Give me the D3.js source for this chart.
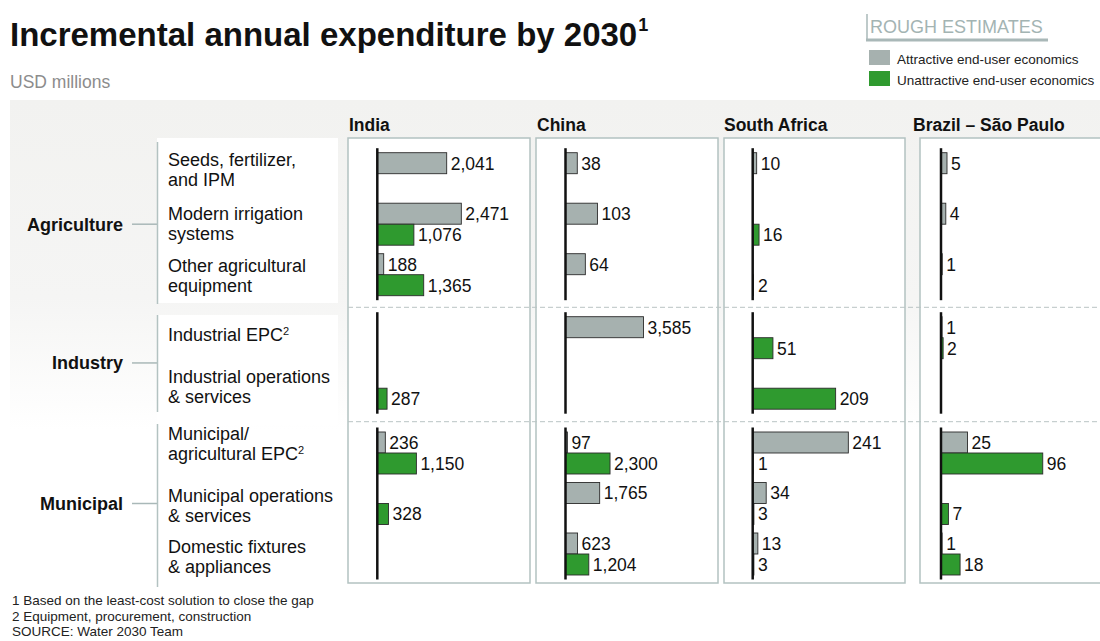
<!DOCTYPE html>
<html><head><meta charset="utf-8">
<script src="https://cdn.jsdelivr.net/npm/d3@7"></script>
<style>
body{margin:0;background:#fff;}
text{font-family:"Liberation Sans",Arial,Helvetica,sans-serif;}
</style>
</head><body>
<svg id="chart" width="1100" height="641"></svg>
<script>
// ---------------- DATA ----------------
const sectors = ["Agriculture", "Industry", "Municipal"];
const subcategorySector = [0, 0, 0, 1, 1, 2, 2, 2];
const subcategories = [
  ["Seeds, fertilizer,", "and IPM"],
  ["Modern irrigation", "systems"],
  ["Other agricultural", "equipment"],
  ["Industrial EPC^2"],
  ["Industrial operations", "& services"],
  ["Municipal/", "agricultural EPC^2"],
  ["Municipal operations", "& services"],
  ["Domestic fixtures", "& appliances"]
];
const regions = ["India", "China", "South Africa", "Brazil – São Paulo"];
const seriesNames = ["Attractive end-user economics", "Unattractive end-user economics"];

const indiaAttractive     = [2041, 2471, 188, null, null, 236, null, null];
const indiaUnattractive   = [null, 1076, 1365, null, 287, 1150, 328, null];
const chinaAttractive     = [38, 103, 64, 3585, null, 97, 1765, 623];
const chinaUnattractive   = [null, null, null, null, null, 2300, null, 1204];
const safricaAttractive   = [10, null, null, null, null, 241, 34, 13];
const safricaUnattractive = [null, 16, 2, 51, 209, 1, 3, 3];
const brazilAttractive    = [5, 4, 1, 1, null, 25, null, 1];
const brazilUnattractive  = [null, null, null, 2, null, 96, 7, 18];

const footnotes = [
  "1 Based on the least-cost solution to close the gap",
  "2 Equipment, procurement, construction",
  "SOURCE: Water 2030 Team"
];

// ---------------- LAYOUT ----------------
const regionValues = [
  [indiaAttractive, indiaUnattractive],
  [chinaAttractive, chinaUnattractive],
  [safricaAttractive, safricaUnattractive],
  [brazilAttractive, brazilUnattractive]
];
const colors = ["#a6b1af", "#2f9a2f"];
const panelX = [348, 536, 724, 920];
const panelW = [182, 182, 181, 200];
const axisX = [377.3, 565.5, 752.7, 941];
const headerX = [349, 537, 724, 913];
const panelTop = 138, panelBottom = 583;
const sectionTop = [152.7, 316.7, 432];
const groupStep = 50.5, pairH = 42;
// per region, per sector: [domain max, range width px]
const xSpec = [
  [[2500, 85], [2500, 85], [2500, 85]],
  [[100, 31], [4000, 87], [2500, 48.4]],
  [[250, 99.2], [250, 99.2], [250, 99.2]],
  [[5, 6], [100, 106], [100, 106]]
];
const labelShift = [-4, -1, 1, -3, -2, -9, 2, 3];
const bracketExt = [[142, 304], [315, 412], [424, 587]];
const fmt = d3.format(",");

const svg = d3.select("#chart");

// background gradient
const defs = svg.append("defs");
const grad = defs.append("linearGradient").attr("id", "bg").attr("x1", 0).attr("y1", 0).attr("x2", 0).attr("y2", 1);
grad.append("stop").attr("offset", "0%").attr("stop-color", "#f2f2f0");
grad.append("stop").attr("offset", "60%").attr("stop-color", "#f5f5f4");
grad.append("stop").attr("offset", "100%").attr("stop-color", "#ffffff");
svg.append("rect").attr("x", 10).attr("y", 100).attr("width", 1090).attr("height", 330).attr("fill", "url(#bg)");

// label column white boxes
svg.append("rect").attr("x", 157).attr("y", 138).attr("width", 181).attr("height", 165).attr("fill", "#fff");
svg.append("rect").attr("x", 157).attr("y", 315).attr("width", 181).attr("height", 110).attr("fill", "#fff");

// Title
const title = svg.append("text").attr("x", 10).attr("y", 46)
  .attr("font-size", 33).attr("font-weight", "bold").attr("fill", "#111")
  .text("Incremental annual expenditure by 2030");
const tw = title.node().getComputedTextLength();
svg.append("text").attr("x", 10 + tw + 1).attr("y", 31).attr("font-size", 18).attr("font-weight", "bold").attr("fill", "#111").text("1");

svg.append("text").attr("x", 10).attr("y", 88).attr("font-size", 17.5).attr("fill", "#8c8c8c").text("USD millions");

// Legend
svg.append("text").attr("x", 870).attr("y", 33).attr("font-size", 18).attr("fill", "#a3b4b3").text("ROUGH ESTIMATES");
svg.append("line").attr("x1", 867).attr("x2", 867).attr("y1", 14).attr("y2", 41).attr("stroke", "#a9b8b8").attr("stroke-width", 1.5);
svg.append("rect").attr("x", 866).attr("y", 38.5).attr("width", 182).attr("height", 3).attr("fill", "#a9b8b8");
seriesNames.forEach((s, i) => {
  svg.append("rect").attr("x", 869).attr("y", 50 + i * 21).attr("width", 21).attr("height", 15).attr("fill", colors[i]);
  svg.append("text").attr("x", 897).attr("y", 63.5 + i * 21).attr("font-size", 13.5).attr("fill", "#222").text(s);
});

// y scales per sector
const yScales = sectors.map((s, si) => {
  const ids = subcategories.map((d, i) => i).filter(i => subcategorySector[i] === si);
  const n = ids.length;
  return d3.scaleBand().domain(ids).range([sectionTop[si], sectionTop[si] + n * groupStep - (groupStep - pairH)])
    .paddingInner((groupStep - pairH) / groupStep).paddingOuter(0);
});
const ySub = d3.scaleBand().domain([0, 1]).range([0, pairH]);

// Panels
regions.forEach((r, ri) => {
  svg.append("rect").attr("x", panelX[ri]).attr("y", panelTop).attr("width", panelW[ri]).attr("height", panelBottom - panelTop)
    .attr("fill", "#fff").attr("stroke", "#b3c2c1").attr("stroke-width", 1.5);
  svg.append("text").attr("x", headerX[ri]).attr("y", 131).attr("font-size", 17.5).attr("font-weight", "bold").attr("fill", "#111").text(r);
});

// dashed separators
[307.3, 421.7].forEach(y => {
  svg.append("line").attr("x1", 348).attr("x2", 1100).attr("y1", y).attr("y2", y)
    .attr("stroke", "#b9c4c4").attr("stroke-width", 1).attr("stroke-dasharray", "5,3");
});

// Bars
regions.forEach((r, ri) => {
  sectors.forEach((s, si) => {
    const x = d3.scaleLinear().domain([0, xSpec[ri][si][0]]).range([0, xSpec[ri][si][1]]);
    const y = yScales[si];
    const g = svg.append("g");
    const items = [];
    y.domain().forEach(ci => {
      regionValues[ri].forEach((arr, k) => {
        if (arr[ci] != null) items.push({ci, k, v: arr[ci]});
      });
    });
    g.selectAll("rect.bar").data(items).join("rect").attr("class", "bar")
      .attr("x", axisX[ri]).attr("y", d => y(d.ci) + ySub(d.k))
      .attr("width", d => x(d.v)).attr("height", ySub.bandwidth())
      .attr("fill", d => colors[d.k]).attr("stroke", "#2b2b2b").attr("stroke-width", 0.9);
    g.selectAll("text.val").data(items).join("text").attr("class", "val")
      .attr("x", d => axisX[ri] + Math.max(x(d.v), 1.3) + 4)
      .attr("y", d => y(d.ci) + ySub(d.k) + ySub.bandwidth() / 2 + 6.3)
      .attr("font-size", 17.5).attr("fill", "#111").text(d => fmt(d.v));
    const top = y.range()[0] - 4.5, bot = y.range()[1] + 4.5;
    g.append("line").attr("x1", axisX[ri]).attr("x2", axisX[ri]).attr("y1", top).attr("y2", bot)
      .attr("stroke", "#111").attr("stroke-width", 2.5);
  });
});

// Left labels
sectors.forEach((s, si) => {
  const y = yScales[si];
  const cy = (y.range()[0] + y.range()[1]) / 2;
  svg.append("text").attr("x", 123).attr("y", cy + 6.3).attr("text-anchor", "end")
    .attr("font-size", 18).attr("font-weight", "bold").attr("fill", "#111").text(s);
  svg.append("line").attr("x1", 132).attr("x2", 157).attr("y1", cy).attr("y2", cy).attr("stroke", "#a9b8b8").attr("stroke-width", 1.5);
  svg.append("line").attr("x1", 157.5).attr("x2", 157.5).attr("y1", bracketExt[si][0]).attr("y2", bracketExt[si][1]).attr("stroke", "#b3c2c1").attr("stroke-width", 1.5);
});
subcategories.forEach((lines, ci) => {
  const y = yScales[subcategorySector[ci]];
  const cy = y(ci) + y.bandwidth() / 2 + labelShift[ci];
  const n = lines.length;
  lines.forEach((ln, li) => {
    const ty = cy + (li - (n - 1) / 2) * 20 + 6.3;
    const t = svg.append("text").attr("x", 168).attr("y", ty).attr("font-size", 18).attr("fill", "#111");
    const parts = ln.split("^");
    t.append("tspan").text(parts[0]);
    if (parts[1]) t.append("tspan").attr("font-size", 11).attr("dy", -6).text(parts[1]);
  });
});

// Footnotes
footnotes.forEach((f, i) => {
  svg.append("text").attr("x", 12).attr("y", 605 + i * 15.5).attr("font-size", 13.5).attr("fill", "#222").text(f);
});
</script>
</body></html>
